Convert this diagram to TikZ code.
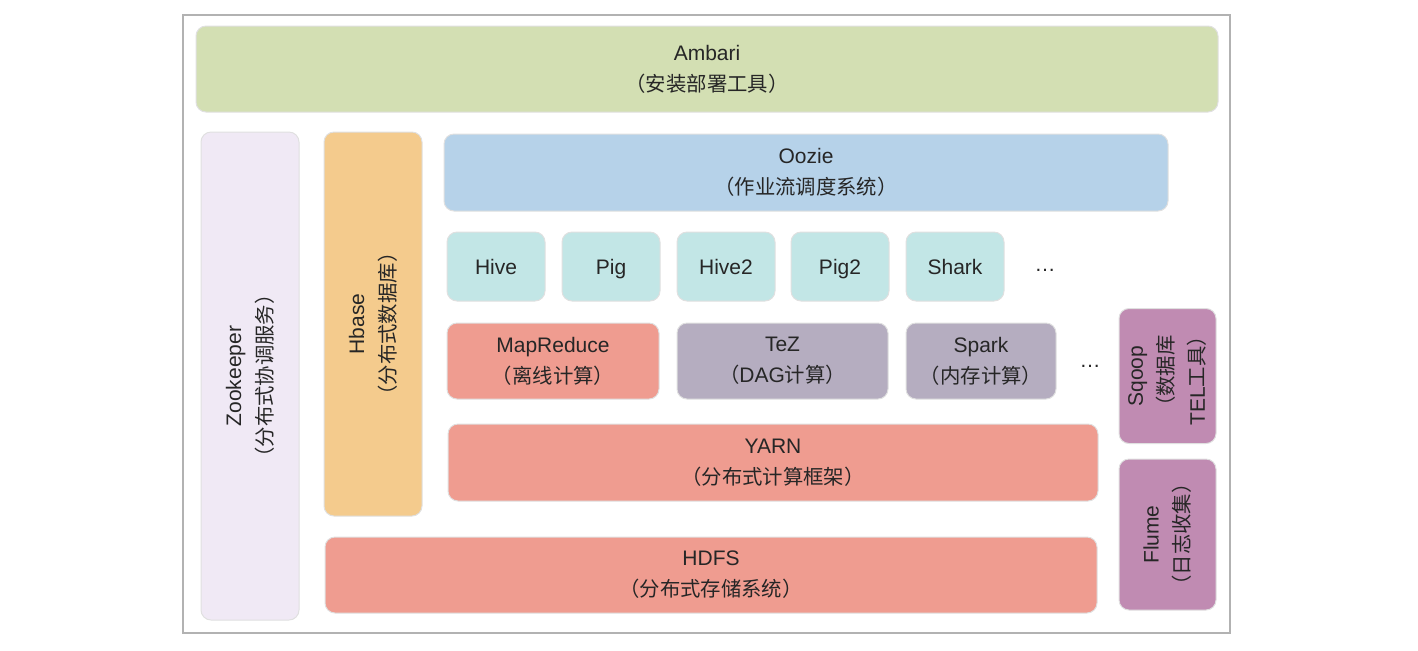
\documentclass[tikz,border=0pt]{standalone}
\usepackage{fontspec}
\setmainfont{Liberation Sans}
\newfontfamily\cjk[Scale=0.97]{Noto Sans CJK SC}
\newcommand{\zh}[1]{{\cjk #1}}
\usepackage{xcolor}
\usetikzlibrary{positioning}
\definecolor{ambarigreen}{HTML}{D3DFB3}
\definecolor{zklilac}{HTML}{F0E9F5}
\definecolor{hbaseorange}{HTML}{F4CB8D}
\definecolor{oozieblue}{HTML}{B6D2E9}
\definecolor{toolteal}{HTML}{C2E6E6}
\definecolor{coresalmon}{HTML}{EF9C90}
\definecolor{enginegrey}{HTML}{B5ADC0}
\definecolor{ingestpurple}{HTML}{C08BB2}
\begin{document}
\begin{tikzpicture}[x=0.5pt, y=-0.5pt, every node/.style={font=\fontsize{10.5pt}{15.5pt}\selectfont, align=center, inner sep=0pt, text=black!85},
    layer/.style={draw=black!12, line width=0.5pt, rounded corners=5pt},
    toolbox/.style={layer, fill=toolteal, minimum width=98*\px, minimum height=69*\px, text height=8.6pt, text depth=1.1pt}]
    \def\px{0.5pt}
    \useasboundingbox (0,0) rectangle (1418,650);
    \node[draw=black!30, line width=0.6pt, minimum width=1047*\px, minimum height=618*\px] (frame) at (706.5,324) {};

    \node[layer, fill=ambarigreen, minimum width=1022*\px, minimum height=86*\px] (ambari) at (707,69) {Ambari\\\zh{（安装部署工具）}};
    \node[layer, fill=zklilac, rotate=90, minimum width=488*\px, minimum height=98*\px] (zookeeper) at (250,376) {Zookeeper\\\zh{（分布式协调服务）}};
    \node[layer, fill=hbaseorange, rotate=90, minimum width=384*\px, minimum height=98*\px] (hbase) at (373,324) {Hbase\\\zh{（分布式数据库）}};
    \node[layer, fill=oozieblue, minimum width=724*\px, minimum height=77*\px] (oozie) at (806,172.5) {Oozie\\\zh{（作业流调度系统）}};

    %% query tools
    \node[toolbox] (hive) at (496,266.5) {Hive};
    \node[toolbox] (pig) at (611,266.5) {Pig};
    \node[toolbox] (hivetwo) at (726,266.5) {Hive2};
    \node[toolbox] (pigtwo) at (840,266.5) {Pig2};
    \node[toolbox] (shark) at (955,266.5) {Shark};
    \node (tooldots) at (1045,270) {…};

    %% engines
    \node[layer, fill=coresalmon, minimum width=212*\px, minimum height=76*\px] (mapreduce) at (553,361) {MapReduce\\\zh{（离线计算）}};
    \node[layer, fill=enginegrey, minimum width=211*\px, minimum height=76*\px] (tez) at (782.5,361) {TeZ\\\zh{（}DAG\zh{计算）}};
    \node[layer, fill=enginegrey, minimum width=150*\px, minimum height=76*\px] (spark) at (981,361) {Spark\\\zh{（内存计算）}};
    \node (enginedots) at (1090,366) {…};

    \node[layer, fill=coresalmon, minimum width=650*\px, minimum height=77*\px] (yarn) at (773,462.5) {YARN\\\zh{（分布式计算框架）}};
    \node[layer, fill=coresalmon, minimum width=772*\px, minimum height=76*\px] (hdfs) at (711,575) {HDFS\\\zh{（分布式存储系统）}};

    %% ingest
    \node[layer, fill=ingestpurple, rotate=90, minimum width=135*\px, minimum height=97*\px] (sqoop) at (1167.5,376) {Sqoop\\\zh{（数据库}\\TEL\zh{工具）}};
    \node[layer, fill=ingestpurple, rotate=90, minimum width=151*\px, minimum height=97*\px] (flume) at (1167.5,534.5) {Flume\\\zh{（日志收集）}};
\end{tikzpicture}
\end{document}
